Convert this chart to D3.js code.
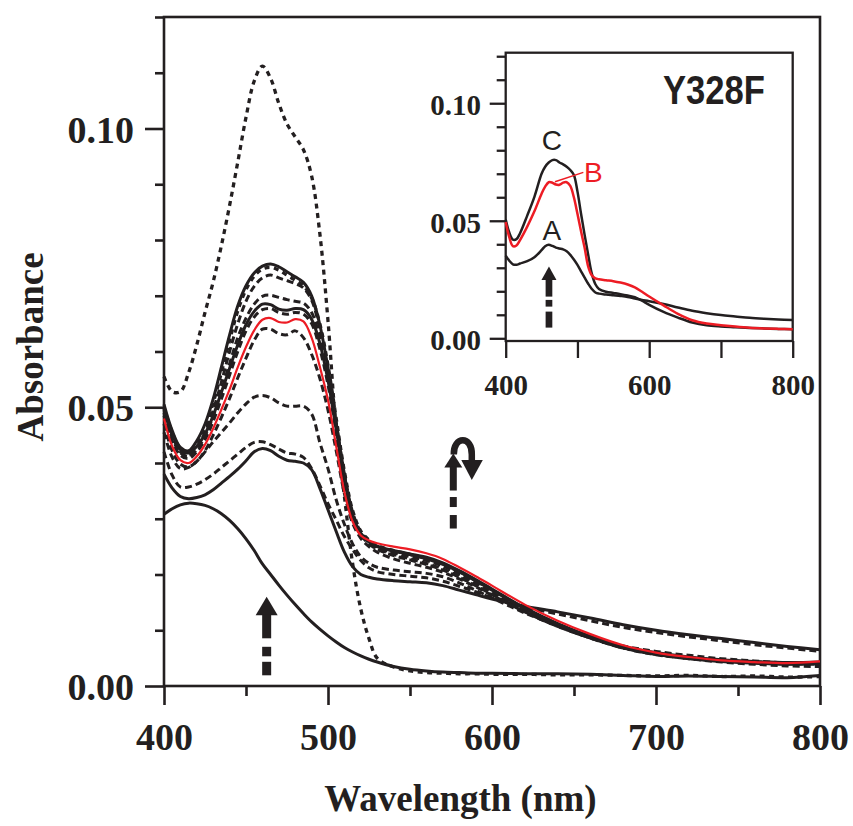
<!DOCTYPE html>
<html>
<head>
<meta charset="utf-8">
<script src="https://cdn.jsdelivr.net/npm/d3@7"></script>
<style>
  body { margin: 0; background: #fff; }
  svg { display: block; }
</style>
</head>
<body>
<svg id="chart" width="853" height="826"></svg>
<script>
// ---------- Titration spectra (main panel) ----------
const wavelengths = [400,405,410,415,420,425,430,435,440,445,450,455,460,465,470,475,480,485,490,495,500,505,510,515,520,525,530,
  540,550,560,570,580,590,600,
  620,640,660,680,700,720,740,760,780,800];

const specFreeDotted = [0.0555,0.0528,0.0528,0.0562,0.0612,0.0670,0.0725,0.0790,0.0862,0.0940,0.1020,0.1085,0.1112,0.1090,0.1045,0.1008,0.0985,0.0962,0.0915,0.0812,0.0655,0.0460,0.0340,0.0220,0.0138,0.0085,0.0050,
  0.0034,0.0027,0.0024,0.0023,0.0022,0.0022,0.0021,
  0.0021,0.0020,0.0020,0.0019,0.0018,0.0019,0.0017,0.0018,0.0016,0.0017];
const specStart = [0.0308,0.0318,0.0325,0.0328,0.0327,0.0324,0.0318,0.0309,0.0297,0.0282,0.0264,0.0243,0.0219,0.0200,0.0181,0.0163,0.0146,0.0130,0.0115,0.0102,0.0090,0.0079,0.0069,0.0061,0.0054,0.0048,0.0043,
  0.0035,0.0030,0.0027,0.0025,0.0024,0.0023,0.0023,
  0.0022,0.0022,0.0021,0.0019,0.0017,0.0018,0.0017,0.0016,0.0015,0.0019];
const specA = [0.0380,0.0355,0.0340,0.0336,0.0338,0.0343,0.0352,0.0364,0.0376,0.0389,0.0404,0.0420,0.0426,0.0422,0.0412,0.0405,0.0403,0.0400,0.0388,0.0355,0.0316,0.0277,0.0240,0.0214,0.0200,0.0195,0.0192,
  0.0189,0.0187,0.0185,0.0180,0.0172,0.0164,0.0156,
  0.0143,0.0133,0.0122,0.0110,0.0100,0.0092,0.0085,0.0078,0.0071,0.0065];
const specDash1 = [0.0420,0.0378,0.0357,0.0357,0.0362,0.0370,0.0380,0.0392,0.0404,0.0416,0.0428,0.0437,0.0438,0.0433,0.0425,0.0418,0.0416,0.0410,0.0390,0.0360,0.0327,0.0298,0.0268,0.0245,0.0225,0.0212,0.0205,
  0.0200,0.0197,0.0194,0.0188,0.0179,0.0169,0.0158,
  0.0142,0.0129,0.0117,0.0105,0.0096,0.0088,0.0081,0.0074,0.0068,0.0062];
const specDash2 = [0.0455,0.0410,0.0390,0.0392,0.0403,0.0420,0.0438,0.0455,0.0472,0.0490,0.0506,0.0518,0.0521,0.0517,0.0508,0.0502,0.0502,0.0502,0.0488,0.0437,0.0390,0.0334,0.0290,0.0255,0.0232,0.0220,0.0213,
  0.0208,0.0205,0.0202,0.0196,0.0185,0.0172,0.0158,
  0.0131,0.0108,0.0088,0.0072,0.0062,0.0055,0.0049,0.0045,0.0041,0.0039];
const specDash3 = [0.0470,0.0422,0.0398,0.0393,0.0403,0.0422,0.0450,0.0482,0.0516,0.0553,0.0588,0.0620,0.0640,0.0640,0.0632,0.0630,0.0637,0.0625,0.0595,0.0552,0.0495,0.0422,0.0345,0.0292,0.0265,0.0250,0.0240,
  0.0228,0.0220,0.0213,0.0204,0.0192,0.0178,0.0163,
  0.0133,0.0107,0.0086,0.0068,0.0057,0.0049,0.0043,0.0039,0.0036,0.0035];
const specDash4 = [0.0485,0.0440,0.0414,0.0408,0.0420,0.0442,0.0475,0.0515,0.0558,0.0600,0.0637,0.0662,0.0675,0.0677,0.0670,0.0667,0.0670,0.0667,0.0650,0.0605,0.0540,0.0455,0.0368,0.0304,0.0271,0.0255,0.0245,
  0.0234,0.0226,0.0218,0.0208,0.0195,0.0180,0.0164,
  0.0133,0.0107,0.0086,0.0069,0.0058,0.0050,0.0045,0.0042,0.0040,0.0041];
const specSolid2 = [0.0498,0.0452,0.0424,0.0418,0.0430,0.0452,0.0485,0.0527,0.0570,0.0612,0.0648,0.0672,0.0685,0.0684,0.0676,0.0674,0.0677,0.0675,0.0658,0.0615,0.0548,0.0460,0.0372,0.0306,0.0274,0.0259,0.0251,
  0.0243,0.0237,0.0231,0.0221,0.0207,0.0191,0.0174,
  0.0140,0.0112,0.0089,0.0071,0.0060,0.0052,0.0047,0.0044,0.0042,0.0043];
const specDash5 = [0.0490,0.0445,0.0418,0.0412,0.0424,0.0448,0.0484,0.0530,0.0578,0.0625,0.0660,0.0685,0.0699,0.0701,0.0697,0.0693,0.0690,0.0687,0.0670,0.0625,0.0555,0.0465,0.0375,0.0308,0.0273,0.0257,0.0246,
  0.0236,0.0228,0.0220,0.0210,0.0197,0.0182,0.0166,
  0.0134,0.0108,0.0086,0.0068,0.0056,0.0049,0.0044,0.0041,0.0039,0.0040];
const specDash6 = [0.0495,0.0450,0.0420,0.0414,0.0428,0.0455,0.0495,0.0545,0.0600,0.0650,0.0690,0.0717,0.0732,0.0737,0.0732,0.0727,0.0722,0.0714,0.0692,0.0640,0.0565,0.0472,0.0380,0.0312,0.0276,0.0260,0.0249,
  0.0239,0.0232,0.0225,0.0215,0.0201,0.0186,0.0170,
  0.0137,0.0110,0.0087,0.0069,0.0058,0.0051,0.0046,0.0043,0.0041,0.0042];
const specC = [0.0505,0.0458,0.0428,0.0422,0.0440,0.0470,0.0515,0.0572,0.0630,0.0682,0.0718,0.0741,0.0753,0.0757,0.0752,0.0743,0.0734,0.0724,0.0700,0.0648,0.0570,0.0472,0.0380,0.0305,0.0273,0.0258,0.0250,
  0.0242,0.0236,0.0228,0.0218,0.0205,0.0189,0.0172,
  0.0139,0.0111,0.0088,0.0069,0.0057,0.0050,0.0045,0.0042,0.0040,0.0040];
const specCDotted = [0.0500,0.0455,0.0426,0.0420,0.0436,0.0465,0.0508,0.0562,0.0620,0.0673,0.0711,0.0735,0.0748,0.0751,0.0746,0.0737,0.0728,0.0718,0.0696,0.0650,0.0575,0.0480,0.0385,0.0315,0.0278,0.0262,0.0252,
  0.0243,0.0236,0.0229,0.0219,0.0205,0.0189,0.0172,
  0.0139,0.0111,0.0088,0.0069,0.0057,0.0050,0.0045,0.0042,0.0040,0.0041];
const specB = [0.0480,0.0430,0.0405,0.0400,0.0412,0.0433,0.0462,0.0496,0.0532,0.0572,0.0608,0.0638,0.0657,0.0660,0.0653,0.0652,0.0658,0.0654,0.0625,0.0573,0.0513,0.0430,0.0348,0.0295,0.0270,0.0261,0.0256,
  0.0250,0.0245,0.0238,0.0228,0.0213,0.0197,0.0180,
  0.0146,0.0117,0.0093,0.0073,0.0060,0.0052,0.0046,0.0043,0.0041,0.0044];

// ---------- Inset: Y328F spectra ----------
const insetWavelengths = [400,405,410,415,420,430,440,450,455,460,465,470,475,480,485,490,495,500,505,510,515,520,525,530,
  540,550,560,570,580,590,600,620,640,660,680,700,720,740,760,780,800];
const insetA = [0.0352,0.0330,0.0315,0.0313,0.0318,0.0328,0.0345,0.0375,0.0392,0.0398,0.0393,0.0386,0.0382,0.0378,0.0370,0.0355,0.0335,0.0312,0.0285,0.0258,0.0232,0.0210,0.0195,0.0190,
  0.0186,0.0183,0.0180,0.0176,0.0169,0.0163,0.0158,0.0146,0.0131,0.0117,0.0107,0.0099,0.0093,0.0087,0.0083,0.0080,0.0078];
const insetB = [0.0495,0.0430,0.0392,0.0395,0.0418,0.0475,0.0540,0.0615,0.0645,0.0664,0.0662,0.0654,0.0653,0.0662,0.0664,0.0648,0.0600,0.0530,0.0455,0.0385,0.0305,0.0268,0.0255,0.0251,
  0.0247,0.0243,0.0237,0.0229,0.0217,0.0198,0.0178,0.0140,0.0104,0.0077,0.0063,0.0056,0.0050,0.0045,0.0042,0.0040,0.0038];
const insetC = [0.0505,0.0450,0.0420,0.0422,0.0447,0.0522,0.0602,0.0700,0.0730,0.0748,0.0758,0.0758,0.0748,0.0740,0.0730,0.0716,0.0695,0.0625,0.0530,0.0440,0.0355,0.0275,0.0230,0.0210,
  0.0198,0.0193,0.0188,0.0182,0.0175,0.0160,0.0142,0.0112,0.0088,0.0067,0.0055,0.0050,0.0047,0.0044,0.0042,0.0040,0.0039];

// ---------- Axis ticks and labels ----------
const mainXTicks = [400, 500, 600, 700, 800];
const mainXMinor = [450, 550, 650, 750];
const mainYTicks = [0, 0.05, 0.10];
const mainYMinor = [0.01, 0.02, 0.03, 0.04, 0.06, 0.07, 0.08, 0.09, 0.11, 0.12];
const insetXTicks = [400, 500, 600, 700, 800];
const insetXLabels = [400, 600, 800];
const insetYTicks = [0, 0.05, 0.10];
const insetYMinor = [0.01, 0.02, 0.03, 0.04, 0.06, 0.07, 0.08, 0.09, 0.11, 0.12];
const xTitle = "Wavelength (nm)";
const yTitle = "Absorbance";
const insetTitle = "Y328F";

// ---------- Drawing ----------
const INK = "#231f20";
const RED = "#ed1c24";
const SERIF = "'Liberation Serif','Times New Roman',Times,serif";
const SANS = "'Liberation Sans',Arial,Helvetica,sans-serif";

const svg = d3.select("#chart");
svg.append("rect").attr("width", 853).attr("height", 826).attr("fill", "#fff");

const x = d3.scaleLinear().domain([400, 800]).range([164, 820]);
const y = d3.scaleLinear().domain([0, 0.12]).range([686, 17]);

// curve series of the main panel, drawn back to front
const mainSeries = [
  { values: specStart,      kind: "solid" },
  { values: specFreeDotted, kind: "dotted" },
  { values: specA,          kind: "solid" },
  { values: specDash1,      kind: "dashed" },
  { values: specDash2,      kind: "dashed" },
  { values: specDash3,      kind: "dashed" },
  { values: specDash4,      kind: "dashed" },
  { values: specSolid2,     kind: "solid" },
  { values: specDash5,      kind: "dashed" },
  { values: specDash6,      kind: "dashed" },
  { values: specC,          kind: "solid" },
  { values: specCDotted,    kind: "dotted" },
  { values: specB,          kind: "red" }
];
const strokeStyles = {
  solid:  { color: INK, width: 3,   dash: null },
  dashed: { color: INK, width: 3,   dash: "7,4" },
  dotted: { color: INK, width: 3.3, dash: "5,4.5" },
  red:    { color: RED, width: 2.2, dash: null }
};

function styleAxis(g, size) {
  g.attr("font-family", SERIF).attr("font-size", size).attr("font-weight", "bold").attr("color", INK);
  g.select(".domain").remove();
  g.selectAll(".tick line").attr("stroke-width", 2.6);
  g.selectAll(".tick text").attr("fill", INK);
}

// minor ticks
svg.append("g").attr("transform", "translate(164,0)")
  .call(d3.axisLeft(y).tickValues(mainYMinor).tickSize(9).tickFormat(""))
  .call(g => styleAxis(g, 38));
svg.append("g").attr("transform", "translate(0,686)")
  .call(d3.axisBottom(x).tickValues(mainXMinor).tickSize(10).tickFormat(""))
  .call(g => styleAxis(g, 38));

// major ticks with labels
svg.append("g").attr("transform", "translate(164,0)")
  .call(d3.axisLeft(y).tickValues(mainYTicks).tickSize(19).tickPadding(11).tickFormat(d3.format(".2f")))
  .call(g => styleAxis(g, 38))
  .call(g => g.selectAll(".tick text").attr("dy", "0.36em"));
svg.append("g").attr("transform", "translate(0,686)")
  .call(d3.axisBottom(x).tickValues(mainXTicks).tickSize(19).tickPadding(18).tickFormat(d3.format("d")))
  .call(g => styleAxis(g, 38));

// frame
svg.append("rect")
  .attr("x", x(400)).attr("y", y(0.12))
  .attr("width", x(800) - x(400)).attr("height", y(0) - y(0.12))
  .attr("fill", "none").attr("stroke", INK).attr("stroke-width", 2.6);

// spectra
const lineMain = d3.line()
  .x((d, i) => x(wavelengths[i]))
  .y(d => y(d))
  .curve(d3.curveCatmullRom.alpha(0.5));

const curves = svg.append("g").attr("fill", "none").attr("stroke-linejoin", "round");
mainSeries.forEach(s => {
  const st = strokeStyles[s.kind];
  curves.append("path")
    .attr("d", lineMain(s.values))
    .attr("stroke", st.color)
    .attr("stroke-width", st.width)
    .attr("stroke-dasharray", st.dash);
});

// axis titles
svg.append("text")
  .attr("x", 460.5).attr("y", 811)
  .attr("text-anchor", "middle")
  .attr("font-family", SERIF).attr("font-weight", "bold").attr("font-size", 37)
  .attr("fill", INK).text(xTitle);
svg.append("text")
  .attr("transform", "translate(43,347) rotate(-90)")
  .attr("text-anchor", "middle")
  .attr("font-family", SERIF).attr("font-weight", "bold").attr("font-size", 37)
  .attr("fill", INK).text(yTitle);

// ---------- arrows ----------
function upArrow(g, cx, tipY, headLen, headW, shaftW, segments) {
  g.append("path")
    .attr("d", `M${cx},${tipY}L${cx + headW / 2},${tipY + headLen}L${cx - headW / 2},${tipY + headLen}Z`)
    .attr("fill", INK);
  segments.forEach(([a, b]) => {
    g.append("rect")
      .attr("x", cx - shaftW / 2).attr("y", tipY + a)
      .attr("width", shaftW).attr("height", b - a)
      .attr("fill", INK);
  });
}

const arrows = svg.append("g");
// increase at 462 nm
upArrow(arrows, x(462.6), y(0.016), 18.5, 22, 9, [[18, 41.5], [50, 59.5], [65, 78.5]]);
// increase then decrease near 576 nm
{
  const cx = x(576.4), tipY = y(0.0417);
  upArrow(arrows, cx, tipY, 14, 18, 7, [[13, 37], [43.5, 53.5], [61.5, 75]]);
  arrows.append("path")
    .attr("d", `M${cx + 0.5},${tipY + 1}C${cx},${tipY - 18} ${cx + 19},${tipY - 18} ${cx + 18.5},${tipY + 1}L${cx + 18.5},${tipY + 8}`)
    .attr("fill", "none").attr("stroke", INK).attr("stroke-width", 6.5);
  arrows.append("path")
    .attr("d", `M${cx + 8},${tipY + 6.5}L${cx + 29.5},${tipY + 6.5}L${cx + 18.5},${tipY + 26.5}Z`)
    .attr("fill", INK);
}

// ---------- inset ----------
const xi = d3.scaleLinear().domain([400, 800]).range([505.7, 792.7]);
const yi = d3.scaleLinear().domain([-0.00115, 0.1215]).range([341, 52.7]);

const inset = svg.append("g");
inset.append("rect")
  .attr("x", xi(400)).attr("y", yi(0.1215))
  .attr("width", xi(800) - xi(400)).attr("height", yi(-0.00115) - yi(0.1215))
  .attr("fill", "#fff");

inset.append("g").attr("transform", `translate(${xi(400)},0)`)
  .call(d3.axisLeft(yi).tickValues(insetYMinor).tickSize(9).tickFormat(""))
  .call(g => styleAxis(g, 29))
  .call(g => g.selectAll(".tick line").attr("stroke-width", 2.3));
inset.append("g").attr("transform", `translate(${xi(400)},0)`)
  .call(d3.axisLeft(yi).tickValues(insetYTicks).tickSize(16).tickPadding(8.7).tickFormat(d3.format(".2f")))
  .call(g => styleAxis(g, 29))
  .call(g => g.selectAll(".tick line").attr("stroke-width", 2.3))
  .call(g => g.selectAll(".tick text").attr("dy", "0.4em"));
inset.append("g").attr("transform", `translate(0,${yi(-0.00115)})`)
  .call(d3.axisBottom(xi).tickValues(insetXTicks).tickSize(17).tickPadding(16.4)
    .tickFormat(d => insetXLabels.includes(d) ? d3.format("d")(d) : ""))
  .call(g => styleAxis(g, 29))
  .call(g => g.selectAll(".tick line").attr("stroke-width", 2.3));

inset.append("rect")
  .attr("x", xi(400)).attr("y", yi(0.1215))
  .attr("width", xi(800) - xi(400)).attr("height", yi(-0.00115) - yi(0.1215))
  .attr("fill", "none").attr("stroke", INK).attr("stroke-width", 2.3);

const lineInset = d3.line()
  .x((d, i) => xi(insetWavelengths[i]))
  .y(d => yi(d))
  .curve(d3.curveCatmullRom.alpha(0.5));

const insetSeries = [
  { values: insetA, color: INK },
  { values: insetC, color: INK },
  { values: insetB, color: RED }
];
const insetCurves = inset.append("g").attr("fill", "none").attr("stroke-linejoin", "round");
insetSeries.forEach(s => {
  insetCurves.append("path")
    .attr("d", lineInset(s.values))
    .attr("stroke", s.color).attr("stroke-width", 2.5);
});

// curve labels
inset.append("text").attr("x", xi(464.5)).attr("y", yi(0.0801))
  .attr("text-anchor", "middle").attr("font-family", SANS).attr("font-size", 28)
  .attr("fill", INK).text("C");
inset.append("text").attr("x", xi(464.3)).attr("y", yi(0.0418))
  .attr("text-anchor", "middle").attr("font-family", SANS).attr("font-size", 28)
  .attr("fill", INK).text("A");
inset.append("text").attr("x", xi(509.1)).attr("y", yi(0.0666))
  .attr("text-anchor", "start").attr("font-family", SANS).attr("font-size", 28)
  .attr("fill", RED).text("B");
inset.append("line")
  .attr("x1", xi(468.7)).attr("y1", yi(0.0666))
  .attr("x2", xi(508.2)).attr("y2", yi(0.0706))
  .attr("stroke", RED).attr("stroke-width", 1.5);

inset.append("text").attr("x", xi(619.2)).attr("y", yi(0.0997))
  .attr("font-family", SANS).attr("font-weight", "bold").attr("font-size", 40)
  .attr("textLength", 102).attr("lengthAdjust", "spacingAndGlyphs")
  .attr("fill", INK).text(insetTitle);

upArrow(inset, xi(460.3), yi(0.0305), 13.5, 15, 6.7, [[13, 30], [33.3, 40], [45, 61]]);
</script>
</body>
</html>
